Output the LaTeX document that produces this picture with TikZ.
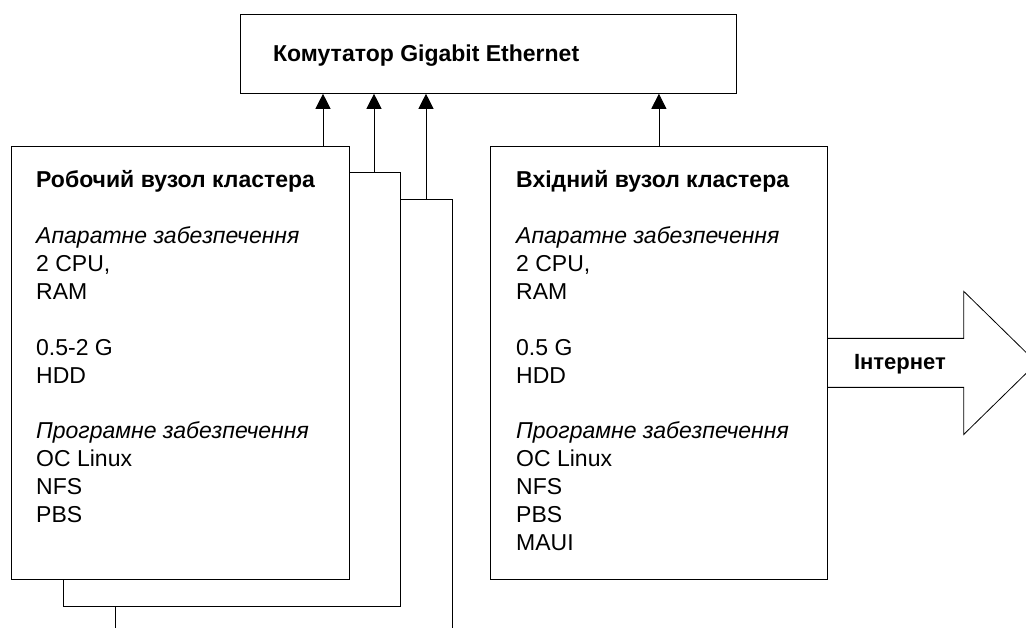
\documentclass[tikz,border=0pt]{standalone}
\usepackage{fontspec}
\setmainfont{Liberation Sans}
\usetikzlibrary{arrows.meta}

\tikzset{
  box/.style={draw, fill=white, line width=0.8pt, anchor=north west, inner sep=0pt},
  info/.style={anchor=north west, align=left, inner sep=0pt, font=\fontsize{23}{27.9}\selectfont},
  title/.style={anchor=base west, inner sep=0pt, font=\fontsize{23}{27.9}\selectfont\bfseries},
  conn/.style={line width=0.8pt, -{Triangle[width=15pt,length=15pt]}},
}

\begin{document}
\begin{tikzpicture}[x=1pt,y=-1pt]
\useasboundingbox (0,0) rectangle (1026,628);
\node[box, minimum width=496, minimum height=79] (switch) at (240,14) {};
\node[title] (switchtext) at ([shift={(33,48)}]switch.north west) {Комутатор Gigabit Ethernet};

\node[box, minimum width=337, minimum height=433] (worker3) at (115,199) {};
\node[box, minimum width=337, minimum height=434] (worker2) at (63,172) {};
\node[box, minimum width=338, minimum height=433] (worker1) at (11,146) {};
\node[info] (worker1text) at ([shift={(25,24.5)}]worker1.north west) {\textbf{Робочий вузол кластера}\\[27.9pt]
  \textit{Апаратне забезпечення}\\ 2 CPU,\\ RAM\\[27.9pt] 0.5-2 G\\ HDD\\[27.9pt]
  \textit{Програмне забезпечення}\\ ОС Linux\\ NFS\\ PBS};

\node[box, minimum width=337, minimum height=433] (entry) at (490,146) {};
\node[info] (entrytext) at ([shift={(26,24.5)}]entry.north west) {\textbf{Вхідний вузол кластера}\\[27.9pt]
  \textit{Апаратне забезпечення}\\ 2 CPU,\\ RAM\\[27.9pt] 0.5 G\\ HDD\\[27.9pt]
  \textit{Програмне забезпечення}\\ ОС Linux\\ NFS\\ PBS\\ MAUI};

\draw[conn] (worker1.north -| 323,0) -- (switch.south -| 323,0);
\draw[conn] (worker2.north -| 374,0) -- (switch.south -| 374,0);
\draw[conn] (worker3.north -| 426,0) -- (switch.south -| 426,0);
\draw[conn] (entry.north) -- (entry.north |- switch.south);

\draw[line width=0.8pt] (entry.east) ++(0,-24.5) -- ++(136,0) -- ++(0,-47) -- ++(73,71.5)
  -- ++(-73,71.5) -- ++(0,-47) -- ++(-136,0);
\node[title, font=\fontsize{22}{26}\selectfont\bfseries] (inet) at ([shift={(26,6.5)}]entry.east) {Інтернет};
\end{tikzpicture}
\end{document}
